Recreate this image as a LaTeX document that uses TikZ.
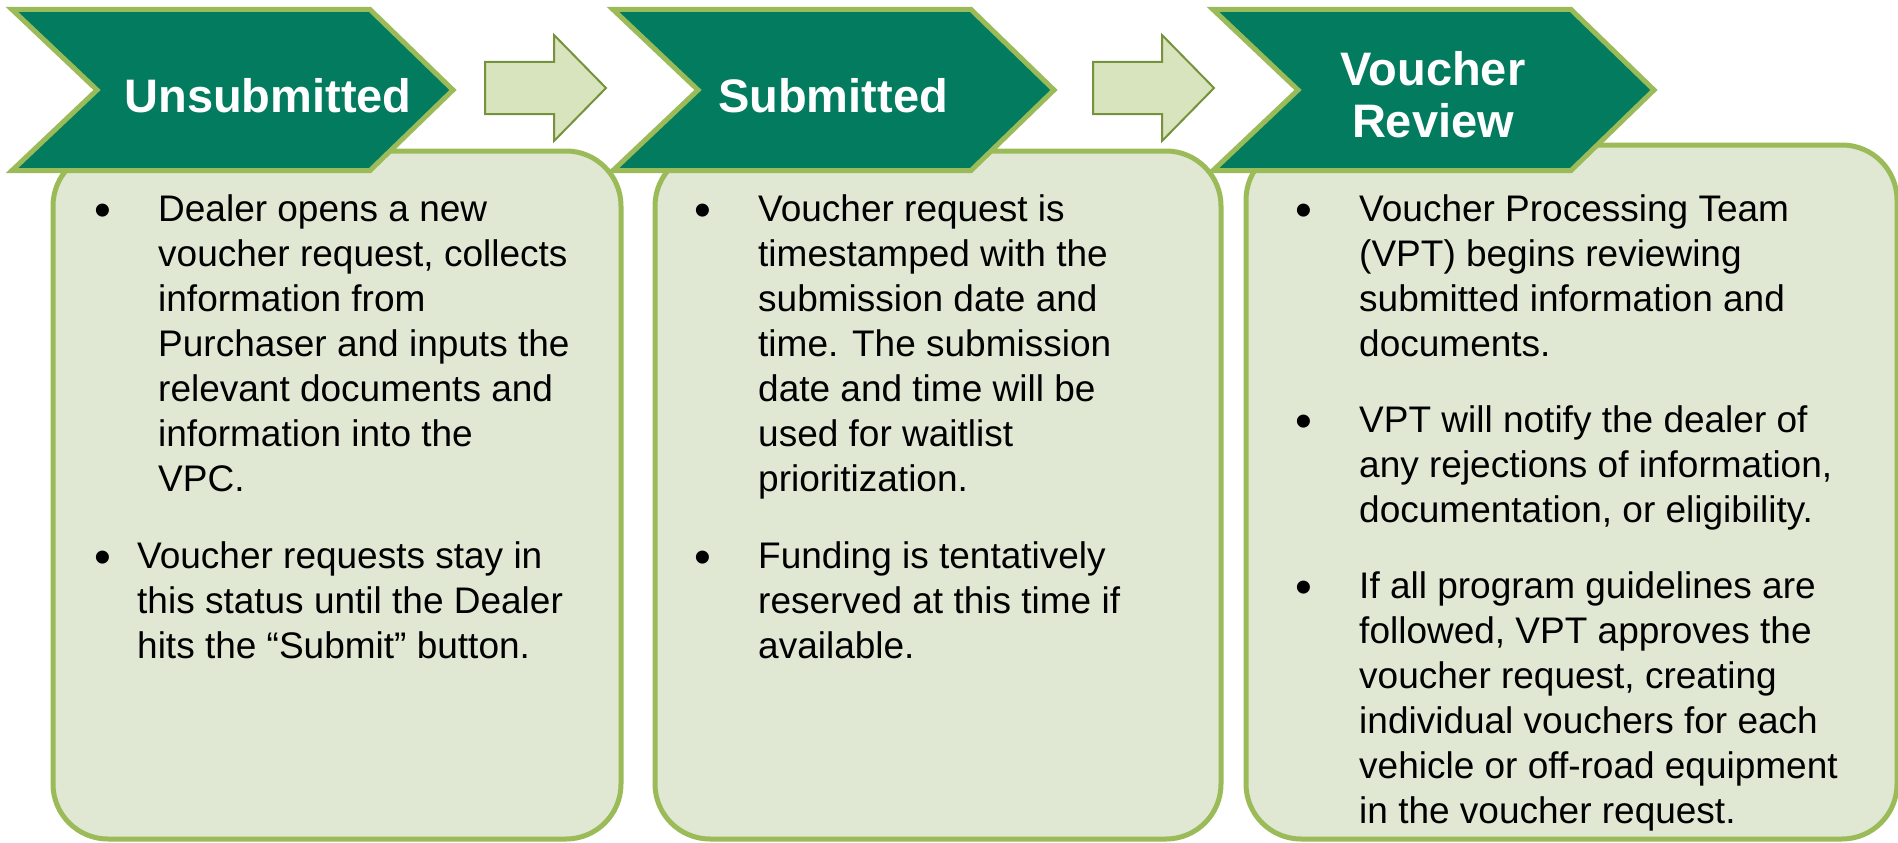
\documentclass[tikz,border=0pt]{standalone}
\usepackage{fontspec}
\setmainfont{Liberation Sans}
\definecolor{chevfill}{RGB}{3,123,95}
\definecolor{olivegreen}{RGB}{155,187,89}
\definecolor{boxfill}{RGB}{224,232,212}
\definecolor{arrfill}{RGB}{215,228,189}
\definecolor{arrline}{RGB}{118,146,60}
\begin{document}
\begin{tikzpicture}[x=1pt,y=-1pt,
  chev/.style={fill=chevfill, draw=olivegreen, line width=5pt, line join=miter},
  stbox/.style={fill=boxfill, draw=olivegreen, line width=5pt, rounded corners=55pt},
  flow/.style={fill=arrfill, draw=arrline, line width=2pt, line join=miter},
  head/.style={text=white, font=\fontsize{47}{52}\selectfont\bfseries, inner sep=0pt},
  body/.style={font=\fontsize{37}{45}\selectfont, align=left, inner sep=0pt, anchor=north west},
  bul/.style={font=\fontsize{48}{48}\selectfont, inner sep=0pt, anchor=base}]
\useasboundingbox (0,0) rectangle (1898,843);
% content boxes
\draw[stbox] (53,151) rectangle (621,839);
\draw[stbox] (655,151) rectangle (1221,839);
\draw[stbox] (1246,145) rectangle (1897,839);
% chevrons
\foreach \o in {0,601,1201}{
  \draw[chev] ({\o+12},9.5) -- ({\o+370},9.5) -- ({\o+453},90) -- ({\o+370},170.5)
    -- ({\o+12},170.5) -- ({\o+97},90) -- cycle;
}
% block arrows
\foreach \o in {0,608}{
  \draw[flow] ({\o+485},62) -- ({\o+554},62) -- ({\o+554},35) -- ({\o+606},88)
    -- ({\o+554},141) -- ({\o+554},114) -- ({\o+485},114) -- cycle;
}
% headings
\node[head, anchor=base] (h1) at (268,112) {Unsubmitted};
\node[head, anchor=base] (h2) at (833,112) {Submitted};
\node[head, anchor=north, align=center] (h3) at (1433,45) {\rule{0pt}{40pt}Voucher\\Review};
% box 1
\node[bul] (b11) at (103,226) {•};
\node[body] (t11) at (158,187) {\rule{0pt}{34pt}Dealer opens a new\\voucher request, collects\\information from\\Purchaser and inputs the\\relevant documents and\\information into the\\VPC.};
\node[bul] (b12) at (103,573) {•};
\node[body] (t12) at (137,534) {\rule{0pt}{34pt}Voucher requests stay in\\this status until the Dealer\\hits the “Submit” button.};
% box 2
\node[bul] (b21) at (703,226) {•};
\node[body] (t21) at (758,187) {\rule{0pt}{34pt}Voucher request is\\timestamped with the\\submission date and\\time. The submission\\date and time will be\\used for waitlist\\prioritization.};
\node[bul] (b22) at (703,573) {•};
\node[body] (t22) at (758,534) {\rule{0pt}{34pt}Funding is tentatively\\reserved at this time if\\available.};
% box 3
\node[bul] (b31) at (1304,226) {•};
\node[body] (t31) at (1359,187) {\rule{0pt}{34pt}Voucher Processing Team\\(VPT) begins reviewing\\submitted information and\\documents.};
\node[bul] (b32) at (1304,437) {•};
\node[body] (t32) at (1359,398) {\rule{0pt}{34pt}VPT will notify the dealer of\\any rejections of information,\\documentation, or eligibility.};
\node[bul] (b33) at (1304,603) {•};
\node[body] (t33) at (1359,564) {\rule{0pt}{34pt}If all program guidelines are\\followed, VPT approves the\\voucher request, creating\\individual vouchers for each\\vehicle or off-road equipment\\in the voucher request.};
\end{tikzpicture}
\end{document}
